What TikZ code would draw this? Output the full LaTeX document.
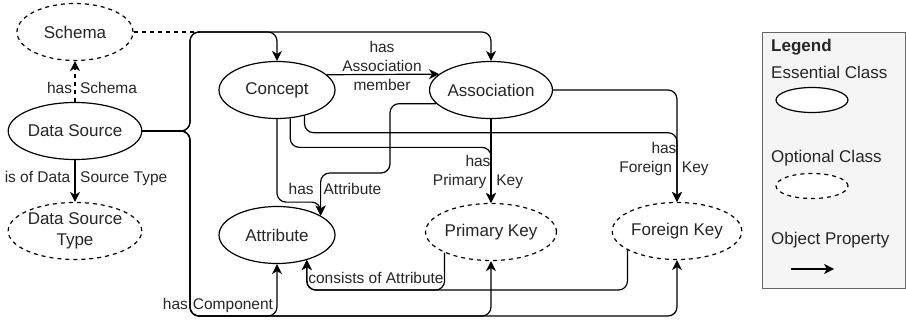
\documentclass[tikz,border=0pt]{standalone}
\usepackage{fontspec}
\setmainfont{Liberation Sans}
\usetikzlibrary{arrows.meta,shapes.geometric,calc}
\definecolor{legendgray}{RGB}{245,245,245}

\tikzset{
  essential/.style={ellipse, draw, fill=white, line width=1.2pt, minimum width=116pt,
    minimum height=57pt, inner sep=0pt, align=center, text=black!85,
    font=\fontsize{17}{21}\selectfont},
  optional/.style={essential, dash pattern=on 4pt off 4pt},
  rel/.style={-{Stealth[length=10pt,width=10pt,inset=3pt]}, line width=1.2pt,
    rounded corners=9pt},
  lbl/.style={inner sep=0pt, align=center, text=black!85,
    font=\fontsize{15.5}{19}\selectfont},
  legendtext/.style={anchor=west, inner sep=0pt, text=black!85,
    font=\fontsize{17}{20}\selectfont},
}

\begin{document}
\begin{tikzpicture}[x=1pt,y=-1pt]
  \useasboundingbox (0,0) rectangle (906,324);

  % Classes
  \node[optional] (schema) at (75,32) {Schema};
  \node[essential] (ds) at (75,131) {Data Source};
  \node[optional] (dst) at (75,231) {Data Source\\Type};
  \node[essential] (concept) at (277,90) {Concept};
  \node[essential] (association) at (491,90) {Association};
  \node[essential] (attribute) at (277,235) {Attribute};
  \node[optional] (pk) at (491,232) {Primary Key};
  \node[optional] (fk) at (677,231) {Foreign Key};
  \coordinate (schemajoin) at (200,32);

  % Data Source properties
  \draw[rel,dash pattern=on 4pt off 4pt] (ds.north) -- (schema.south);
  \draw[line width=1.2pt,dash pattern=on 4pt off 4pt] (schema.east) -- (schemajoin);
  \draw[rel] (ds.south) -- (dst.north);
  \foreach \dst in {concept,association}
    \draw[rel] (ds.east) -| (190,32) -| (\dst.north);
  \foreach \dst in {attribute,pk,fk}
    \draw[rel] (ds.east) -| (190,316) -| (\dst.south);

  % Concept and Association properties
  \draw[rel] (concept.17) -- (association.163);
  \draw[rel] (concept.south) -- ++(0,83) -| (attribute.24);
  \draw[rel] (association.194) -| (390,173) -| (attribute.24);
  \draw[rel] (concept.295) -- ++(0,29) -| (pk.north);
  \draw[rel] (association.south) -- (pk.north);
  \draw[rel] (concept.317) -- ++(0,17) -| (fk.north);
  \draw[rel] (association.east) -| (fk.north);

  % Keys consist of attributes
  \draw[rel] (pk.204) |- ($(attribute.320)+(0,30)$) -- (attribute.320);
  \draw[rel] (fk.201) |- ($(attribute.320)+(0,30)$) -- (attribute.320);

  % Property labels
  \node[lbl] (hasschema) at (92,88) {has\hspace{8pt}Schema};
  \node[lbl] (hastype) at (86,178) {is of Data\hspace{10pt}Source Type};
  \node[lbl] (hasmember) at (382,66) {has\\Association\\member};
  \node[lbl] (hasattr) at (335,189) {has\hspace{10pt}Attribute};
  \node[lbl] (haspk) at (478,172) {has\\Primary\hspace{10pt}Key};
  \node[lbl] (hasfk) at (664,159) {has\\Foreign\hspace{10pt}Key};
  \node[lbl] (consists) at (376,278) {consists of Attribute};
  \node[lbl] (hascomp) at (218,305) {has\hspace{5pt}Component};

  % Legend
  \node[draw=black!60, fill=legendgray, line width=0.8pt, minimum width=143pt,
    minimum height=256pt, inner sep=0pt] (legendbox) at (833.5,160) {};
  \node[legendtext, font=\fontsize{17}{20}\selectfont\bfseries] (legendtitle)
    at (771,47) {Legend};
  \node[legendtext] (esslabel) at (771,72) {Essential Class};
  \node[essential, minimum width=72pt, minimum height=25pt] (esssample)
    at (812,100) {};
  \node[legendtext] (optlabel) at (771,158) {Optional Class};
  \node[optional, minimum width=72pt, minimum height=25pt] (optsample)
    at (812,186) {};
  \node[legendtext] (proplabel) at (771,240) {Object Property};
  \coordinate (propstart) at (791,269);
  \coordinate (propend) at (834,269);
  \draw[rel] (propstart) -- (propend);
\end{tikzpicture}
\end{document}
